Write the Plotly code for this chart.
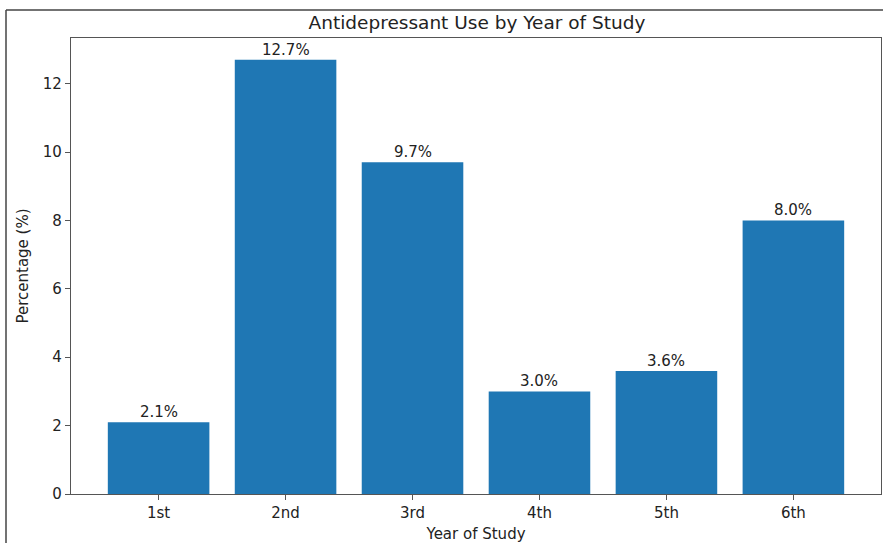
import plotly.graph_objects as go

years = ["1st", "2nd", "3rd", "4th", "5th", "6th"]
percentages = [2.1, 12.7, 9.7, 3.0, 3.6, 8.0]
labels = [f"{v:.1f}%" for v in percentages]
y_ticks = [0, 2, 4, 6, 8, 10, 12]

W, H = 883, 543
L, R, T, B = 71, 2, 38, 49
pw = W - L - R
ph = H - T - B
FS = 15

fig = go.Figure(go.Bar(
    x=list(range(len(years))), y=percentages, width=0.8,
    marker=dict(color="#1f77b4", line=dict(width=0)),
))

for i, (v, lab) in enumerate(zip(percentages, labels)):
    fig.add_annotation(x=i, y=v, text=lab, showarrow=False, xanchor="center",
                       yanchor="bottom", yshift=-1,
                       font=dict(family="DejaVu Sans", size=FS, color="#222"))

def px2paper_x(px):
    return (px - L) / pw

def px2paper_y(py):
    return (H - B - py) / ph

fig.update_layout(
    width=W, height=H,
    margin=dict(l=L, r=R, t=T, b=B, autoexpand=False),
    paper_bgcolor="white", plot_bgcolor="white",
    font=dict(family="DejaVu Sans", size=FS, color="#222"),
    title=dict(text="Antidepressant Use by Year of Study", x=477 / W,
               xanchor="center", y=1 - 23 / H, yanchor="middle",
               font=dict(size=18.5, color="#222")),
    showlegend=False,
    bargap=0.2,
    shapes=[
        dict(type="line", xref="paper", yref="paper",
             x0=px2paper_x(6), x1=px2paper_x(6), y0=px2paper_y(10), y1=px2paper_y(560),
             line=dict(color="#444", width=1.5)),
        dict(type="line", xref="paper", yref="paper",
             x0=px2paper_x(6), x1=px2paper_x(900), y0=px2paper_y(10), y1=px2paper_y(10),
             line=dict(color="#444", width=1.5)),
    ],
)

fig.update_xaxes(
    range=[-0.69, 5.69], tickmode="array", tickvals=list(range(len(years))), ticktext=years,
    showline=True, linecolor="#555", linewidth=1.2, mirror=True, automargin=False,
    ticks="outside", ticklen=5, tickcolor="#555", showgrid=False, zeroline=False,
    tickfont=dict(size=FS),
    title=dict(text="Year of Study", standoff=8, font=dict(size=FS)),
)
fig.update_yaxes(
    range=[0, 13.335], tickmode="array", tickvals=y_ticks,
    showline=True, linecolor="#555", linewidth=1.2, mirror=True, automargin=False,
    ticks="outside", ticklen=5, tickcolor="#555", showgrid=False, zeroline=False,
    tickfont=dict(size=FS),
    title=dict(text="Percentage (%)", standoff=10, font=dict(size=FS)),
)

fig.write_html("out.html", config={"displayModeBar": False},
               post_script="document.body.style.margin='0';document.body.style.overflow='hidden';")
